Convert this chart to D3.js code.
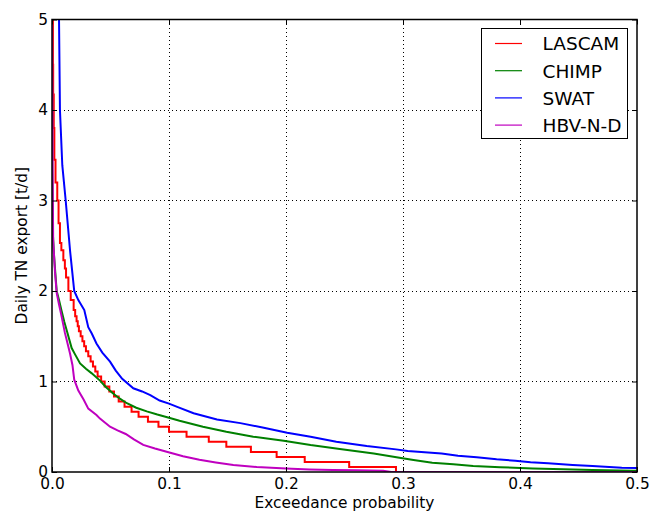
<!DOCTYPE html>
<html>
<head>
<meta charset="utf-8">
<script src="https://cdn.jsdelivr.net/npm/d3@7"></script>
<style>
  body { margin: 0; background: #fff; }
  svg { display: block; font-family: "DejaVu Sans", sans-serif; }
</style>
</head>
<body>
<svg id="chart" width="660" height="514"></svg>
<script>
// Exceedance probability / daily TN export
const lascamP = [0, 0.0004, 0.0008, 0.001, 0.0015, 0.002, 0.003, 0.0045, 0.0056, 0.0068, 0.008, 0.0097, 0.011, 0.012, 0.014, 0.016, 0.0185, 0.0198, 0.021, 0.022, 0.023, 0.0245, 0.026, 0.0275, 0.029, 0.031, 0.033, 0.035, 0.037, 0.039, 0.042, 0.045, 0.049, 0.053, 0.057, 0.062, 0.068, 0.074, 0.082, 0.091, 0.100, 0.115, 0.134, 0.149, 0.170, 0.192, 0.216, 0.254, 0.294, 0.5];
const lascamV = [5.6, 5.0, 4.5, 4.17, 3.8, 3.45, 3.2, 3.0, 2.75, 2.53, 2.45, 2.34, 2.25, 2.15, 2.0, 1.9, 1.79, 1.72, 1.667, 1.611, 1.556, 1.5, 1.444, 1.389, 1.333, 1.278, 1.222, 1.167, 1.111, 1.056, 1.0, 0.944, 0.889, 0.833, 0.778, 0.722, 0.667, 0.611, 0.556, 0.5, 0.444, 0.389, 0.333, 0.278, 0.222, 0.167, 0.111, 0.056, 0, 0];

const chimpP = [0, 0.0002, 0.0006, 0.0017, 0.004, 0.006, 0.008, 0.0105, 0.0125, 0.0168, 0.0197, 0.024, 0.029, 0.034, 0.041, 0.046, 0.052, 0.058, 0.064, 0.072, 0.081, 0.09, 0.1, 0.109, 0.129, 0.149, 0.172, 0.198, 0.221, 0.246, 0.275, 0.297, 0.309, 0.325, 0.343, 0.36, 0.383, 0.411, 0.437, 0.462, 0.497, 0.5];
const chimpV = [5.3, 3.3, 2.67, 2.4, 2.0, 1.9, 1.79, 1.66, 1.57, 1.37, 1.3, 1.2, 1.14, 1.09, 1.01, 0.94, 0.87, 0.81, 0.76, 0.71, 0.67, 0.635, 0.60, 0.567, 0.50, 0.445, 0.39, 0.346, 0.298, 0.255, 0.205, 0.158, 0.133, 0.103, 0.085, 0.066, 0.052, 0.04, 0.03, 0.022, 0.014, 0.013];

const swatP = [0.0056, 0.006, 0.0068, 0.0088, 0.0117, 0.0154, 0.019, 0.0225, 0.0276, 0.031, 0.034, 0.038, 0.043, 0.0496, 0.0545, 0.060, 0.0695, 0.077, 0.084, 0.092, 0.1, 0.107, 0.121, 0.141, 0.161, 0.181, 0.201, 0.221, 0.243, 0.269, 0.294, 0.304, 0.333, 0.347, 0.363, 0.380, 0.396, 0.409, 0.424, 0.445, 0.462, 0.487, 0.5];
const swatV = [5.5, 5.0, 4.0, 3.39, 3.0, 2.45, 2.0, 1.9, 1.79, 1.6, 1.53, 1.42, 1.32, 1.22, 1.12, 1.03, 0.925, 0.89, 0.85, 0.79, 0.755, 0.72, 0.65, 0.58, 0.54, 0.49, 0.434, 0.39, 0.335, 0.287, 0.25, 0.232, 0.205, 0.18, 0.162, 0.14, 0.125, 0.107, 0.096, 0.077, 0.066, 0.048, 0.045];

const hbvP = [0, 0.0005, 0.001, 0.0026, 0.004, 0.006, 0.0077, 0.011, 0.0154, 0.0175, 0.019, 0.0225, 0.027, 0.031, 0.038, 0.041, 0.0496, 0.056, 0.063, 0.07, 0.078, 0.088, 0.098, 0.112, 0.126, 0.14, 0.155, 0.175, 0.2, 0.22, 0.24, 0.26, 0.283, 0.29, 0.5];
const hbvV = [5.2, 3.5, 2.56, 2.2, 1.98, 1.85, 1.75, 1.54, 1.31, 1.18, 1.02, 0.9, 0.8, 0.7, 0.63, 0.59, 0.5, 0.46, 0.42, 0.36, 0.30, 0.26, 0.224, 0.175, 0.135, 0.105, 0.077, 0.055, 0.038, 0.028, 0.022, 0.018, 0.014, 0, 0];

const seriesNames = ['LASCAM', 'CHIMP', 'SWAT', 'HBV-N-D'];
const seriesColors = ['#ff0000', '#008000', '#0000ff', '#bf00bf'];
const xTicks = [0, 0.1, 0.2, 0.3, 0.4, 0.5];
const yTicks = [0, 1, 2, 3, 4, 5];

const svg = d3.select('#chart');
const margin = { top: 19.5, right: 23, bottom: 42, left: 52 };
const W = 660 - margin.left - margin.right;
const H = 514 - margin.top - margin.bottom;

const x = d3.scaleLinear().domain([0, 0.5]).range([0, W]);
const y = d3.scaleLinear().domain([0, 5]).range([H, 0]);

const g = svg.append('g').attr('transform', `translate(${margin.left},${margin.top})`);

svg.append('defs').append('clipPath').attr('id', 'clip')
    .append('rect').attr('width', W).attr('height', H);

// dotted grid, only inner lines
const grid = g.append('g')
    .attr('stroke', '#000').attr('stroke-width', 1)
    .attr('stroke-dasharray', '1,3').attr('shape-rendering', 'crispEdges');
grid.selectAll('line.gx')
    .data(xTicks.slice(1, -1))
    .join('line')
    .attr('class', 'gx')
    .attr('x1', (d) => x(d)).attr('x2', (d) => x(d))
    .attr('y1', 0).attr('y2', H);
grid.selectAll('line.gy')
    .data(yTicks.slice(1, -1))
    .join('line')
    .attr('class', 'gy')
    .attr('y1', (d) => y(d)).attr('y2', (d) => y(d))
    .attr('x1', 0).attr('x2', W);

// curves
const series = [
    { p: lascamP, v: lascamV, curve: d3.curveStepAfter },
    { p: chimpP, v: chimpV, curve: d3.curveLinear },
    { p: swatP, v: swatV, curve: d3.curveLinear },
    { p: hbvP, v: hbvV, curve: d3.curveLinear },
];

const plot = g.append('g').attr('clip-path', 'url(#clip)');
series.forEach((s, i) => {
    const pts = s.p.map((p, k) => [p, s.v[k]]);
    const line = d3.line().x((d) => x(d[0])).y((d) => y(d[1])).curve(s.curve);
    plot.append('path')
        .datum(pts)
        .attr('d', line)
        .attr('fill', 'none')
        .attr('stroke', seriesColors[i])
        .attr('stroke-width', 2);
});

// axes, ticks inward on all sides
const fontSize = 15.4;
const bottomAxis = g.append('g').attr('transform', `translate(0,${H})`)
    .call(d3.axisBottom(x).tickValues(xTicks).tickSize(-5).tickPadding(6).tickFormat(d3.format('.1f')));
const leftAxis = g.append('g')
    .call(d3.axisLeft(y).tickValues(yTicks).tickSize(-5).tickPadding(4).tickFormat(d3.format('d')));
const topAxis = g.append('g')
    .call(d3.axisTop(x).tickValues(xTicks).tickSize(-5).tickFormat(''));
const rightAxis = g.append('g').attr('transform', `translate(${W},0)`)
    .call(d3.axisRight(y).tickValues(yTicks).tickSize(-5).tickFormat(''));

[bottomAxis, leftAxis, topAxis, rightAxis].forEach((a) => {
    a.select('.domain').remove();
    a.selectAll('.tick line').attr('stroke', '#000').attr('stroke-width', 1);
    a.selectAll('text')
        .attr('fill', '#000')
        .style('font-size', fontSize + 'px')
        .style('font-family', '"DejaVu Sans", sans-serif');
});

// frame
g.append('rect')
    .attr('width', W).attr('height', H)
    .attr('fill', 'none').attr('stroke', '#000').attr('stroke-width', 1.5);

// axis labels
svg.append('text')
    .attr('x', margin.left + W / 2).attr('y', 508)
    .attr('text-anchor', 'middle')
    .style('font-size', fontSize + 'px')
    .text('Exceedance probability');

svg.append('text')
    .attr('transform', `translate(26.5,${margin.top + H / 2}) rotate(-90)`)
    .attr('text-anchor', 'middle')
    .style('font-size', fontSize + 'px')
    .text('Daily TN export [t/d]');

// legend
const legend = svg.append('g').attr('transform', 'translate(481.5,28.5)');
legend.append('rect')
    .attr('width', 146).attr('height', 110)
    .attr('fill', '#fff').attr('stroke', '#000').attr('stroke-width', 1);

seriesNames.forEach((name, i) => {
    const ry = 15 + i * 27.2;
    legend.append('line')
        .attr('x1', 13.5).attr('x2', 40.5)
        .attr('y1', ry).attr('y2', ry)
        .attr('stroke', seriesColors[i]).attr('stroke-width', 1.2);
    legend.append('text')
        .attr('x', 61).attr('y', ry + 6.8)
        .style('font-size', '18.5px')
        .text(name);
});
</script>
</body>
</html>
